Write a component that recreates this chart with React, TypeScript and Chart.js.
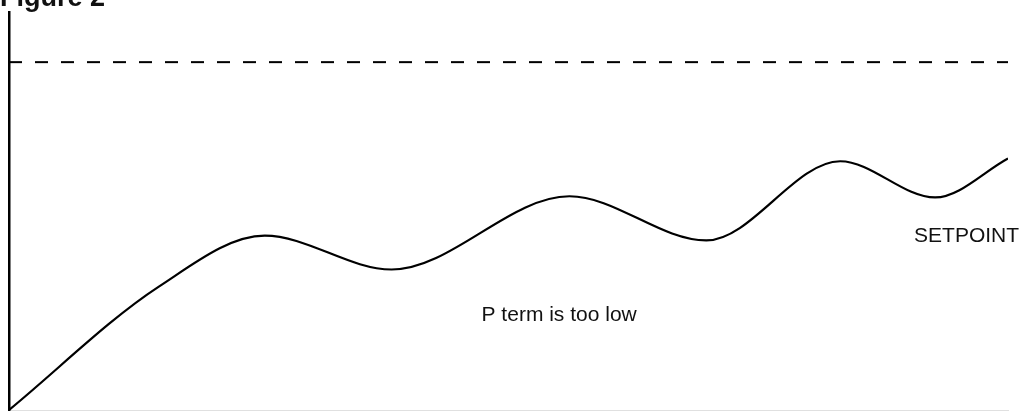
import React, { useEffect, useRef } from "react";
import { Chart, registerables } from "chart.js";

Chart.register(...registerables);

// time (0..100) and process value (0..100)
const times = [0, 15.0, 25.6, 38.3, 56.1, 69.8, 83.2, 92.7, 100];
const values = [0, 31.0, 43.8, 35.3, 53.7, 42.6, 62.5, 53.4, 63.2];
const setpointTimes = [0, 100];
const setpointValue = 87.4;

const titleText = "Figure 2";
const labelTexts = ["SETPOINT", "P term is too low"];
const labelTimes = [90.6, 47.3];
const labelValues = [42.1, 22.4];

const textPlugin = {
  id: "texts",
  afterDraw(chart: any) {
    const ctx = chart.ctx;
    const xs = chart.scales.x;
    const ys = chart.scales.y;
    ctx.save();
    ctx.fillStyle = "#111";
    ctx.textBaseline = "alphabetic";
    ctx.textAlign = "left";
    ctx.font = "21px 'Liberation Sans', Arial, sans-serif";
    labelTexts.forEach((t, i) => {
      ctx.fillText(t, xs.getPixelForValue(labelTimes[i]), ys.getPixelForValue(labelValues[i]));
    });
    ctx.font = "bold 27px 'Liberation Sans', Arial, sans-serif";
    ctx.fillText(titleText, 0, 6);
    ctx.restore();
  },
};

export default function App() {
  const ref = useRef<HTMLCanvasElement>(null);
  useEffect(() => {
    const chart = new Chart(ref.current!, {
      type: "line",
      data: {
        datasets: [
          {
            data: times.map((t, i) => ({ x: t, y: values[i] })),
            borderColor: "#000",
            borderWidth: 2.2,
            pointRadius: 0,
            cubicInterpolationMode: "monotone",
            fill: false,
          },
          {
            data: setpointTimes.map((t) => ({ x: t, y: setpointValue })),
            borderColor: "#000",
            borderWidth: 2,
            borderDash: [13, 13],
            pointRadius: 0,
            fill: false,
          },
        ],
      },
      options: {
        animation: false,
        responsive: false,
        devicePixelRatio: 1,
        layout: { padding: { left: 9, right: 26, top: 12, bottom: 1 } },
        plugins: { legend: { display: false }, tooltip: { enabled: false }, title: { display: false } },
        scales: {
          x: {
            type: "linear",
            min: 0,
            max: 100,
            ticks: { display: false },
            grid: { display: false, drawTicks: false },
            border: { display: true, color: "#e0e0e0", width: 1 },
          },
          y: {
            type: "linear",
            min: 0,
            max: 100,
            ticks: { display: false },
            grid: { display: false, drawTicks: false },
            border: { display: true, color: "#000", width: 2.5 },
          },
        },
      },
      plugins: [textPlugin],
    } as any);
    return () => chart.destroy();
  }, []);
  return (
    <div style={{ position: "fixed", left: 0, top: 0, width: 1034, height: 411, background: "#fff" }}>
      <canvas ref={ref} width={1034} height={411} />
    </div>
  );
}
